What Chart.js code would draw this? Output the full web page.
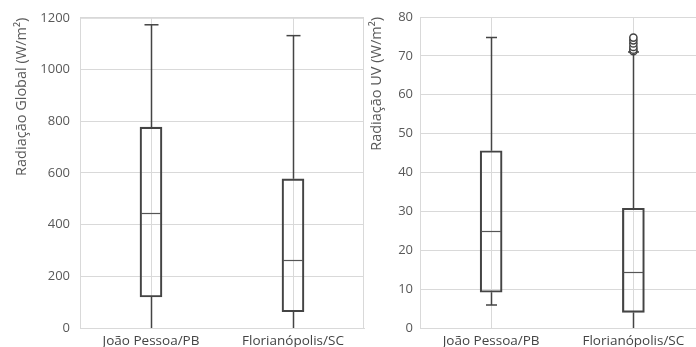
<!DOCTYPE html>
<html>
<head>
<meta charset="utf-8">
<script src="https://cdn.jsdelivr.net/npm/chart.js@4.4.1/dist/chart.umd.min.js"></script>
<style>
  html, body { margin: 0; padding: 0; background: #fff; overflow: hidden; }
  #wrap { position: relative; width: 696px; height: 347px; overflow: hidden; }
  canvas { position: absolute; top: 0; }
  #chartGlobal { left: 0; }
  #chartUV { left: 350px; }
</style>
</head>
<body>
<div id="wrap">
  <canvas id="chartGlobal" width="372" height="347"></canvas>
  <canvas id="chartUV" width="360" height="347"></canvas>
</div>
<script>
// categorias
const stations = ['João Pessoa/PB', 'Florianópolis/SC'];

// Radiação Global (W/m²)
const globalMin = [0, 0];
const globalQ1 = [120, 63];
const globalMedian = [446, 263];
const globalQ3 = [777, 577];
const globalMax = [1173, 1131];
const globalTicks = { min: 0, max: 1200, step: 200 };

// Radiação UV (W/m²)
const uvMin = [5.9, 0];
const uvQ1 = [9.2, 4.0];
const uvMedian = [24.9, 14.5];
const uvQ3 = [45.6, 30.8];
const uvMax = [74.7, 71.0];
const uvOutliersFloripa = [71.2, 71.6, 72.3, 73.2, 74.0, 74.7];
const uvTicks = { min: 0, max: 80, step: 10 };

const GRID = '#d9d9d9';
const INK = '#444';
const TEXT = '#595959';
const FONT = 'Open Sans';

// desenha moldura, bigodes e medianas com as escalas do gráfico
const boxPlugin = {
  id: 'boxWhiskers',
  beforeDatasetsDraw(chart, args, opts) {
    const { ctx, chartArea, scales: { x, y } } = chart;
    ctx.save();
    ctx.strokeStyle = GRID;
    ctx.lineWidth = 1;
    ctx.strokeRect(chartArea.left + 0.5, chartArea.top + 0.5,
      chartArea.right - chartArea.left - 1, chartArea.bottom - chartArea.top);
    ctx.strokeStyle = INK;
    ctx.lineWidth = 1.5;
    opts.min.forEach((lo, i) => {
      const cx = Math.round(x.getPixelForValue(i)) + 0.5;
      const yLo = y.getPixelForValue(lo);
      const yHi = y.getPixelForValue(opts.max[i]);
      ctx.beginPath();
      ctx.moveTo(cx, y.getPixelForValue(opts.q1[i]));
      ctx.lineTo(cx, yLo);
      ctx.moveTo(cx, y.getPixelForValue(opts.q3[i]));
      ctx.lineTo(cx, yHi);
      ctx.stroke();
      // tampa superior (e inferior quando acima do zero)
      ctx.beginPath();
      ctx.moveTo(cx - opts.cap / 2, yHi);
      ctx.lineTo(cx + opts.cap / 2, yHi);
      if (lo > 0) {
        ctx.moveTo(cx - opts.cap / 2, yLo);
        ctx.lineTo(cx + opts.cap / 2, yLo);
      }
      ctx.stroke();
    });
    ctx.restore();
  },
  afterDatasetsDraw(chart, args, opts) {
    const { ctx, scales: { x, y } } = chart;
    ctx.save();
    ctx.strokeStyle = '#555';
    ctx.lineWidth = 1.2;
    opts.median.forEach((m, i) => {
      const cx = x.getPixelForValue(i);
      const my = Math.round(y.getPixelForValue(m)) + 0.5;
      ctx.beginPath();
      ctx.moveTo(cx - opts.box / 2 + 1, my);
      ctx.lineTo(cx + opts.box / 2 - 1, my);
      ctx.stroke();
    });
    ctx.restore();
  },
};

function makeBoxChart(canvas, cfg) {
  const datasets = [{
    type: 'bar',
    data: cfg.q1.map((q, i) => [q, cfg.q3[i]]),
    backgroundColor: 'rgba(255,255,255,0)',
    borderColor: INK,
    borderWidth: 1.5,
    borderSkipped: false,
    barThickness: 22,
  }];
  if (cfg.outliers) {
    datasets.push({
      type: 'line',
      showLine: false,
      data: cfg.outliers,
      pointStyle: 'circle',
      pointRadius: 3.6,
      pointBackgroundColor: '#fff',
      pointBorderColor: INK,
      pointBorderWidth: 1.5,
    });
  }
  return new Chart(canvas, {
    data: { labels: stations, datasets },
    plugins: [boxPlugin],
    options: {
      responsive: false,
      animation: false,
      layout: { padding: cfg.padding },
      plugins: {
        legend: { display: false },
        tooltip: { enabled: false },
        boxWhiskers: {
          min: cfg.min, q1: cfg.q1, median: cfg.median, q3: cfg.q3, max: cfg.max,
          cap: cfg.cap, box: 22,
        },
      },
      scales: {
        x: {
          grid: { color: GRID, offset: false, drawTicks: false },
          border: { color: GRID },
          ticks: { color: INK, font: { family: FONT, size: 13.5 }, padding: 5, maxRotation: 0 },
          afterFit: (s) => { s.height = cfg.xHeight; },
        },
        y: {
          min: cfg.ticks.min,
          max: cfg.ticks.max,
          grid: { color: GRID, drawTicks: false },
          border: { color: GRID },
          ticks: {
            stepSize: cfg.ticks.step,
            color: TEXT,
            font: { family: FONT, size: 13 },
            padding: cfg.tickPad,
            callback: (v) => String(v),
          },
          title: {
            display: true,
            text: cfg.title,
            align: 'end',
            color: TEXT,
            font: { family: FONT, size: 14.5 },
            padding: { top: cfg.titlePad, bottom: 0 },
          },
          afterFit: (s) => { s.width = cfg.yWidth; },
        },
      },
    },
  });
}

makeBoxChart(document.getElementById('chartGlobal'), {
  min: globalMin, q1: globalQ1, median: globalMedian, q3: globalQ3, max: globalMax,
  ticks: globalTicks,
  title: 'Radiação Global (W/m²)',
  padding: { left: 0, right: 8, top: 16, bottom: 0 },
  xHeight: 19, yWidth: 80, tickPad: 10, titlePad: 13, cap: 14,
});

makeBoxChart(document.getElementById('chartUV'), {
  min: uvMin, q1: uvQ1, median: uvMedian, q3: uvQ3, max: uvMax,
  outliers: uvOutliersFloripa.map((v) => ({ x: stations[1], y: v })),
  ticks: uvTicks,
  title: 'Radiação UV (W/m²)',
  padding: { left: 0, right: 4, top: 17, bottom: 0 },
  xHeight: 19, yWidth: 70, tickPad: 7, titlePad: 18, cap: 11,
});
</script>
</body>
</html>
